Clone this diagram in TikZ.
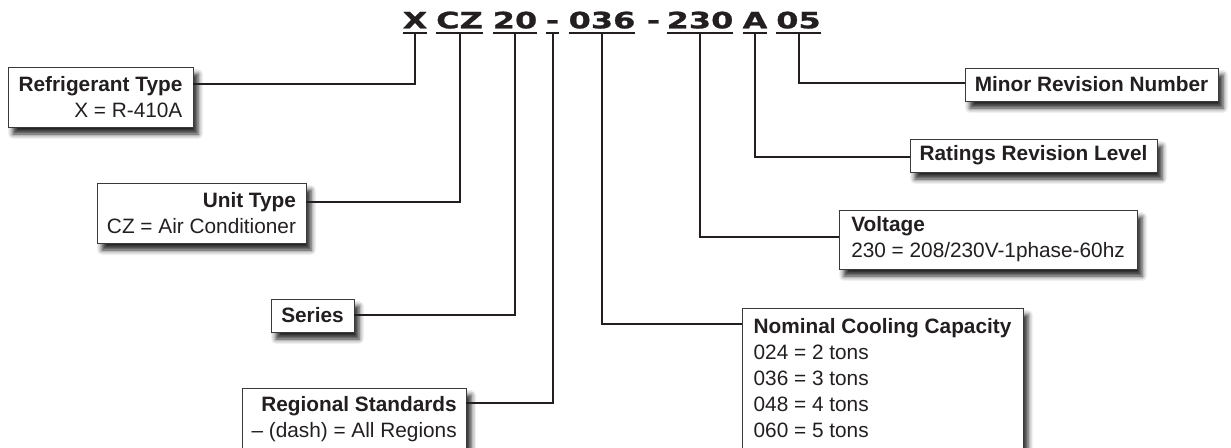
\documentclass[tikz,border=0pt]{standalone}
\usepackage{fontspec}
\setmainfont{Liberation Sans}
\newfontfamily\codefont{DejaVu Sans}[FakeStretch=1.42, FakeBold=1.2]
\usetikzlibrary{calc,shadows.blur}
\definecolor{ink}{HTML}{231F20}
\definecolor{boxline}{HTML}{3A3A3A}
\tikzset{
  infobox/.style={draw=boxline, line width=0.9pt, fill=white, text=ink,
    inner xsep=9.5pt, inner ysep=0pt, outer sep=0pt,
    font=\fontsize{20.8}{26}\selectfont,
    blur shadow={shadow xshift=5pt, shadow yshift=-7pt, shadow blur radius=5pt, shadow opacity=85}},
  code/.style={inner sep=0pt, outer sep=0pt, text=ink, font=\codefont\bfseries\fontsize{22.5}{24}\selectfont},
  uline/.style={draw=ink, line width=2.2pt},
  conn/.style={draw=ink, line width=2pt},
}
\begin{document}
\begin{tikzpicture}[x=1pt,y=-1pt]
\useasboundingbox (0,0) rectangle (1231,447);
% code characters
\node[code, anchor=base] (cX)  at (415,28.3) {X};
\node[code, anchor=base] (cCZ) at (459.5,28.3) {CZ};
\node[code, anchor=base] (c20) at (515,28.3) {20};
\node[code, anchor=base] (cD1) at (552.5,28.3) {-};
\node[code, anchor=base] (c036) at (602,28.3) {036};
\node[code, anchor=base] (cD2) at (653.5,28.3) {-};
\node[code, anchor=base] (c230) at (700,28.3) {230};
\node[code, anchor=base] (cA) at (755,28.3) {A};
\node[code, anchor=base] (c05) at (798.5,28.3) {05};
\foreach \n in {cX,cCZ,c20,cD1,c036,c230,cA,c05}{
  \draw[uline] ([yshift=-4.7pt]\n.base west) -- ([yshift=-4.7pt]\n.base east);
  \coordinate (t\n) at ([yshift=-4.7pt]\n.base);
}
% boxes
\node[infobox, anchor=north west, minimum width=185pt, minimum height=60pt, align=right] (ref) at (8,67)
  {\textbf{Refrigerant Type}\\X = R-410A};
\node[infobox, anchor=north west, minimum width=209pt, minimum height=60pt, align=right] (unit) at (97,183)
  {\textbf{Unit Type}\\CZ = Air Conditioner};
\node[infobox, anchor=north west, minimum width=83pt, minimum height=33pt, align=center] (series) at (271,299)
  {\textbf{Series}};
\node[infobox, anchor=north west, minimum width=222pt, inner ysep=8.8pt, align=right] (regional) at (242,388)
  {\textbf{Regional Standards}\\– (dash) = All Regions};
\node[infobox, anchor=north west, minimum width=281pt, inner ysep=10.8pt, align=left] (nominal) at (742,308)
  {\textbf{Nominal Cooling Capacity}\\024 = 2 tons\\036 = 3 tons\\048 = 4 tons\\060 = 5 tons\\[2pt]};
\node[infobox, anchor=north west, minimum width=298pt, minimum height=59pt, align=left] (voltage) at (839,210)
  {\textbf{Voltage}\\230 = 208/230V-1phase-60hz};
\node[infobox, anchor=north west, minimum width=247pt, minimum height=33pt, align=center] (ratings) at (910,139)
  {\textbf{Ratings Revision Level}};
\node[infobox, anchor=north west, minimum width=253pt, minimum height=33pt, align=center] (minor) at (965,68)
  {\textbf{Minor Revision Number}};
% connectors
\draw[conn] (tcX) |- ($(ref.north east)+(0,17)$);
\draw[conn] (tcCZ) |- ($(unit.north east)+(0,19)$);
\draw[conn] (tc20) |- ($(series.north east)+(0,16)$);
\draw[conn] (tcD1) |- ($(regional.north east)+(0,15)$);
\draw[conn] (tc036) |- ($(nominal.north west)+(0,16)$);
\draw[conn] (tc230) |- ($(voltage.north west)+(0,27)$);
\draw[conn] (tcA) |- ($(ratings.north west)+(0,18)$);
\draw[conn] (tc05) |- ($(minor.north west)+(0,15)$);
\end{tikzpicture}
\end{document}
